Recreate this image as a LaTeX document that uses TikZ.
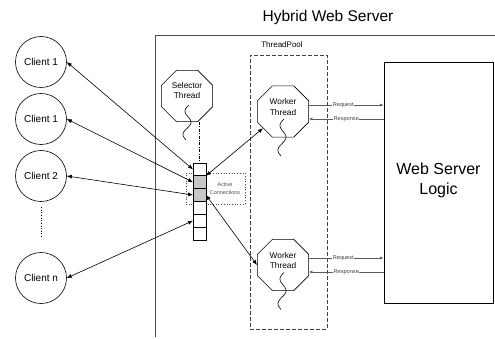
\documentclass[tikz,border=0pt]{standalone}
\usepackage{fontspec}
\setmainfont{Liberation Sans}
\usetikzlibrary{shapes.geometric,arrows.meta}
\begin{document}
\begin{tikzpicture}[x=1pt,y=-1pt,
  client/.style={circle,draw,line width=0.6pt,minimum size=51pt,inner sep=0pt,font=\fontsize{10}{12}\selectfont},
  thread/.style={regular polygon,regular polygon sides=8,draw,line width=0.7pt,minimum size=55.5pt,inner sep=0pt},
  threadtext/.style={align=center,inner sep=0pt,font=\fontsize{8.3}{10.5}\selectfont},
  cell/.style={draw,line width=0.7pt,fill=white,minimum width=13pt,minimum height=12.8pt,inner sep=0pt,outer sep=0pt},
  busy/.style={cell,fill=black!22},
  link/.style={{Latex[length=5pt,width=4pt]}-{Latex[length=5pt,width=4pt]},line width=0.6pt},
  msg/.style={-{Latex[length=3.5pt,width=3pt]},line width=0.6pt,draw=black!65},
  msgtext/.style={fill=white,inner sep=0.6pt,font=\fontsize{5.6}{6}\selectfont,text=black!75},
  squig/.style={line width=0.6pt},
]
\useasboundingbox (0,0) rectangle (495,339);

% title and server frame
\node[font=\fontsize{15.5}{18}\selectfont] (title) at (328,17) {Hybrid Web Server};
\draw[line width=0.8pt,black!70] (155,337) -- (155,35) -- (495,35);

% thread pool
\node[draw=black!75,line width=0.8pt,dash pattern=on 4pt off 2pt,minimum width=77pt,minimum height=274pt,inner sep=0pt] (pool) at (288.5,192) {};
\node[font=\fontsize{8}{10}\selectfont] (pooltext) at (282,45) {ThreadPool};

% web server logic
\node[draw,line width=0.9pt,minimum width=109pt,minimum height=241pt,inner sep=0pt] (logic) at (438.5,182.5) {};
\node[align=center,font=\fontsize{16}{20}\selectfont] (logictext) at (438.5,180) {Web Server\\Logic};

% clients
\node[client] (c1) at (41,62) {Client 1};
\node[client] (c2) at (41,119) {Client 1};
\node[client] (c3) at (41,176) {Client 2};
\node[client] (cn) at (41,278) {Client n};
\draw[dotted,line width=0.6pt,shorten <=5.5pt,shorten >=15pt] (c3) -- (cn);

% active connections box
\node[draw=black!70,dotted,line width=0.7pt,minimum width=59pt,minimum height=31pt,inner sep=0pt] (active) at (215.5,188.5) {};
\node[align=center,font=\fontsize{5.4}{7.5}\selectfont,text=black!70] (activetext) at (225,188.5) {Active\\Connections};

% queue
\node[cell] (q1) at (199.5,169.4) {};
\node[busy] (q2) at (199.5,182.2) {};
\node[busy] (q3) at (199.5,195.0) {};
\node[cell] (q4) at (199.5,207.9) {};
\node[cell] (q5) at (199.5,220.7) {};
\node[cell] (q6) at (199.5,233.6) {};

% threads
\node[thread] (sel) at (187,96) {};
\node[threadtext] (seltext) at (187,90.5) {Selector\\Thread};
\node[thread] (w1) at (283,111.5) {};
\node[threadtext] (w1text) at (283,107) {Worker\\Thread};
\node[thread] (w2) at (283,265) {};
\node[threadtext] (w2text) at (283,260.5) {Worker\\Thread};

% squiggles
\draw[squig,shift={(sel.center)}] plot[domain=0:1,samples=60,smooth] ({3.5*sin(180+540*\x)+2-3*\x},{9+35*\x});
\draw[squig,shift={(w1.center)}] plot[domain=0:1,samples=60,smooth] ({3.5*sin(180+540*\x)+1-3*\x},{7.5+37*\x});
\draw[squig,shift={(w2.center)}] plot[domain=0:1,samples=60,smooth] ({3.5*sin(180+540*\x)+1-3*\x},{7.5+37*\x});

% selector to queue
\draw[line width=0.6pt,dash pattern=on 3pt off 1.5pt on 0.8pt off 1.5pt] (sel.south -| q1.north) -- (q1.north);

% client links
\draw[link] (c1.east) -- (q1.west);
\draw[link] (c2.east) -- (q2.west);
\draw[link] (c3.east) -- (q3.west);
\draw[link] (cn.east) -- (q5.west);

% queue to workers
\draw[link] (q2.north east) -- (w1);
\draw[link] (q3.east) -- (w2.west);

% requests and responses
\draw[msg] ([yshift=6.5pt]w1.east) -- ([yshift=6.5pt]w1.east -| logic.west) node[msgtext,midway,xshift=-3pt] {Request};
\draw[msg] ([yshift=-7.5pt]w1.east -| logic.west) -- ([yshift=-7.5pt]w1.east) node[msgtext,midway] {Response};
\draw[msg] ([yshift=7pt]w2.east) -- ([yshift=7pt]w2.east -| logic.west) node[msgtext,midway,xshift=-3pt] {Request};
\draw[msg] ([yshift=-7pt]w2.east -| logic.west) -- ([yshift=-7pt]w2.east) node[msgtext,midway] {Response};
\end{tikzpicture}
\end{document}
